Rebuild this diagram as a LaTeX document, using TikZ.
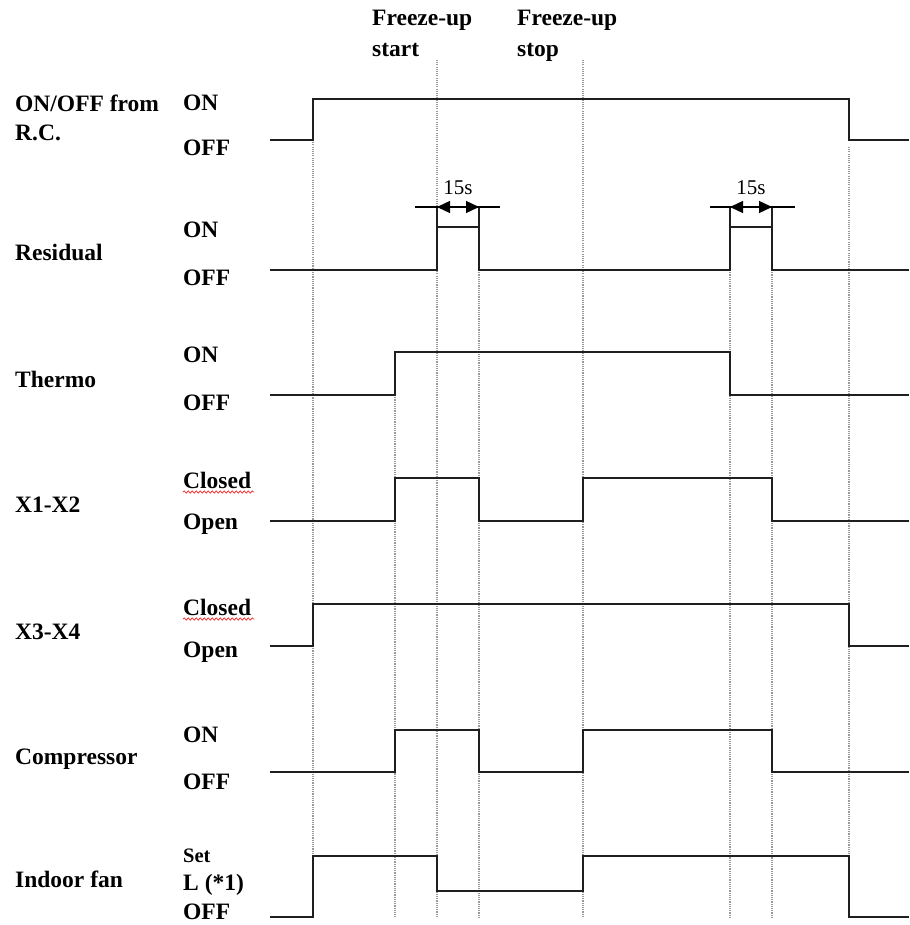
\documentclass[tikz,border=0pt]{standalone}
\usepackage{fontspec}
\setmainfont{Liberation Serif}
\usetikzlibrary{decorations.pathmorphing,arrows.meta}
\begin{document}
\begin{tikzpicture}[x=1pt,y=-1pt,
  sig/.style={line width=1.9pt, black!88, line join=miter},
  vgrid/.style={gray!80, line width=1.1pt, dash pattern=on 1.1pt off 1.1pt},
  lbl/.style={anchor=base west, inner sep=0pt, font=\fontsize{23.5}{26}\selectfont\bfseries},
  smalllbl/.style={anchor=base west, inner sep=0pt, font=\fontsize{20.5}{22}\selectfont\bfseries},
  durtxt/.style={anchor=base, inner sep=0pt, font=\fontsize{21}{22}\selectfont},
  dim/.style={line width=1.3pt, black},
  dimarrow/.style={line width=1.3pt, black, -{Triangle[length=13pt,width=12pt]}},
  squiggle/.style={red!85, line width=0.7pt, decorate, decoration={snake, amplitude=1.2pt, segment length=4pt}}]
\useasboundingbox (0,0) rectangle (909,925);

% dotted time markers
\draw[vgrid] (313,140) -- (313,917);
\draw[vgrid] (395,395) -- (395,917);
\draw[vgrid] (437,60) -- (437,917);
\draw[vgrid] (479,270) -- (479,917);
\draw[vgrid] (583,60) -- (583,917);
\draw[vgrid] (730,270) -- (730,917);
\draw[vgrid] (772,270) -- (772,917);
\draw[vgrid] (849,147) -- (849,917);

% header labels
\node[lbl] (fzs1) at (372,26) {Freeze-up};
\node[lbl] (fzs2) at (372,57) {start};
\node[lbl] (fzt1) at (517,26) {Freeze-up};
\node[lbl] (fzt2) at (517,57) {stop};

% row labels
\node[lbl] (rc1) at (15,112) {ON/OFF from};
\node[lbl] (rc2) at (15,141) {R.C.};
\node[lbl] (rcon) at (183,111) {ON};
\node[lbl] (rcoff) at (183,156) {OFF};

\node[lbl] (res) at (15,260) {Residual};
\node[lbl] (reson) at (183,237) {ON};
\node[lbl] (resoff) at (183,285) {OFF};

\node[lbl] (thm) at (15,387) {Thermo};
\node[lbl] (thmon) at (183,362) {ON};
\node[lbl] (thmoff) at (183,410) {OFF};

\node[lbl] (xa) at (15,512) {X1-X2};
\node[lbl] (xacl) at (183,488) {Closed};
\node[lbl] (xaop) at (183,529) {Open};

\node[lbl] (xb) at (15,639) {X3-X4};
\node[lbl] (xbcl) at (183,615) {Closed};
\node[lbl] (xbop) at (183,657) {Open};

\node[lbl] (cmp) at (15,764) {Compressor};
\node[lbl] (cmpon) at (183,742) {ON};
\node[lbl] (cmpoff) at (183,789) {OFF};

\node[lbl] (fan) at (15,887) {Indoor fan};
\node[smalllbl] (fanset) at (183,862) {Set};
\node[lbl] (fanl) at (183,890) {L (*1)};
\node[lbl] (fanoff) at (183,919) {OFF};

% spell-check squiggles
\draw[squiggle] (xacl.base west) ++(0,4) -- ++(71,0);
\draw[squiggle] (xbcl.base west) ++(0,4) -- ++(71,0);

% signals
\draw[sig] (270,140) -- (313,140) -- (313,99) -- (849,99) -- (849,140) -- (909,140);

\draw[sig] (270,270) -- (437,270) -- (437,207) (437,227) -- (479,227) (479,207) -- (479,270)
  -- (730,270) -- (730,207) (730,227) -- (772,227) (772,207) -- (772,270) -- (909,270);

\draw[sig] (270,395) -- (395,395) -- (395,352) -- (730,352) -- (730,395) -- (909,395);

\draw[sig] (270,521) -- (395,521) -- (395,478) -- (479,478) -- (479,521) -- (583,521)
  -- (583,478) -- (772,478) -- (772,521) -- (909,521);

\draw[sig] (270,646) -- (313,646) -- (313,604) -- (849,604) -- (849,646) -- (909,646);

\draw[sig] (270,772) -- (395,772) -- (395,730) -- (479,730) -- (479,772) -- (583,772)
  -- (583,730) -- (772,730) -- (772,772) -- (909,772);

\draw[sig] (270,917) -- (313,917) -- (313,856) -- (437,856) -- (437,891) -- (583,891)
  -- (583,856) -- (849,856) -- (849,917) -- (909,917);

% 15 s dimensions
\coordinate (d1c) at (458,207);
\draw[dim] (415,207) -- (500,207);
\draw[dimarrow] (d1c) -- (437,207);
\draw[dimarrow] (d1c) -- (479,207);
\node[durtxt] (d1t) at (458,195) {15s};

\coordinate (d2c) at (751,207);
\draw[dim] (710,207) -- (795,207);
\draw[dimarrow] (d2c) -- (730,207);
\draw[dimarrow] (d2c) -- (772,207);
\node[durtxt] (d2t) at (751,195) {15s};
\end{tikzpicture}
\end{document}
